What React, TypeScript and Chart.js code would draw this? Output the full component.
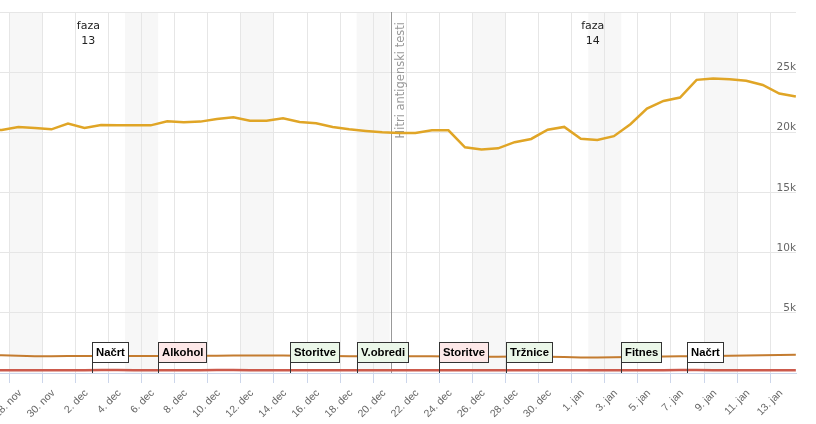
import { useEffect, useRef } from "react";
import { Chart, registerables } from "chart.js";

Chart.register(...registerables);

// ---- data -------------------------------------------------------------
// day index 0 = 28. nov (Saturday); first value belongs to day -2
const FIRST_DAY = -2;
const POINT_OFFSET = 0.55;

const tickDays = [0, 2, 4, 6, 8, 10, 12, 14, 16, 18, 20, 22, 24, 26, 28, 30, 32, 34, 36, 38, 40, 42, 44, 46];
const tickLabels = [
  "28. nov", "30. nov", "2. dec", "4. dec", "6. dec", "8. dec", "10. dec", "12. dec",
  "14. dec", "16. dec", "18. dec", "20. dec", "22. dec", "24. dec", "26. dec", "28. dec",
  "30. dec", "1. jan", "3. jan", "5. jan", "7. jan", "9. jan", "11. jan", "13. jan",
];

const yTickValues = [0, 5000, 10000, 15000, 20000, 25000, 30000];
const yLabelValues = [5000, 10000, 15000, 20000, 25000];
const yLabels = ["5k", "10k", "15k", "20k", "25k"];

const goldSeries = [
  20300, 20190, 20440, 20360, 20250, 20725, 20360, 20610, 20580, 20580,
  20580, 20920, 20830, 20890, 21110, 21250, 20970, 20970, 21170, 20860,
  20750, 20440, 20250, 20110, 20000, 19940, 19940, 20170, 20170, 18760,
  18580, 18670, 19180, 19450, 20220, 20450, 19470, 19370, 19680, 20670,
  21970, 22610, 22890, 24360, 24470, 24420, 24280, 23940, 23220, 22970,
];

const brownSeries = [
  1480, 1470, 1430, 1400, 1400, 1410, 1420, 1420, 1420, 1420,
  1410, 1410, 1420, 1430, 1440, 1450, 1460, 1460, 1450, 1440,
  1430, 1420, 1400, 1390, 1380, 1390, 1400, 1390, 1370, 1360,
  1350, 1350, 1370, 1380, 1360, 1320, 1290, 1280, 1300, 1330,
  1360, 1380, 1390, 1400, 1420, 1430, 1450, 1470, 1490, 1520,
];

const redSeries = [
  230, 230, 235, 235, 230, 230, 235, 240, 240, 235,
  230, 230, 235, 235, 240, 240, 235, 230, 230, 230,
  225, 225, 230, 230, 235, 235, 230, 225, 225, 225,
  230, 230, 235, 235, 230, 230, 225, 225, 230, 230,
  235, 235, 240, 240, 235, 235, 230, 230, 235, 235,
];

const weekendStarts = [0, 7, 14, 21, 28, 35, 42];

const phaseDays = [4.78, 35.27];
const phaseNumbers = ["13", "14"];

const markerDay = 23.06;
const markerLabel = "Hitri antigenski testi";

const flagDays = [5, 9, 17, 21, 26, 30, 37, 41];
const flagTitles = ["Načrt", "Alkohol", "Storitve", "V.obredi", "Storitve", "Tržnice", "Fitnes", "Načrt"];
const flagKinds = ["plain", "red", "green", "green", "red", "green", "green", "plain"];

// ---- styles -------------------------------------------------------------
const FLAG_FILL: Record<string, string> = { plain: "#ffffff", red: "#fde8e8", green: "#ebf7e9" };

const toPoints = (vals: number[]) =>
  vals.map((v, k) => ({ x: FIRST_DAY + k + POINT_OFFSET, y: v }));

const overlayPlugin = {
  id: "overlay",
  beforeDraw(chart: any) {
    const { ctx, chartArea: a, scales } = chart;
    const x = scales.x;
    ctx.save();
    ctx.fillStyle = "#f7f7f7";
    for (const d of weekendStarts) {
      const x0 = Math.max(x.getPixelForValue(d), a.left);
      const x1 = Math.min(x.getPixelForValue(d + 2), a.right);
      if (x1 > x0) ctx.fillRect(x0, a.top, x1 - x0, a.bottom - a.top);
    }
    ctx.restore();
  },
  beforeDatasetsDraw(chart: any) {
    const { ctx, chartArea: a, scales } = chart;
    const x = scales.x;
    ctx.save();
    // plot line
    const px = Math.round(x.getPixelForValue(markerDay)) + 0.5;
    ctx.strokeStyle = "#999999";
    ctx.lineWidth = 1;
    ctx.beginPath();
    ctx.moveTo(px, a.top);
    ctx.lineTo(px, a.bottom);
    ctx.stroke();
    ctx.translate(px + 12, a.top + 10);
    ctx.rotate(-Math.PI / 2);
    ctx.font = '11.5px "DejaVu Sans"';
    ctx.fillStyle = "#999999";
    ctx.textAlign = "right";
    ctx.textBaseline = "alphabetic";
    ctx.fillText(markerLabel, 0, 0);
    ctx.restore();

    // phase labels
    ctx.save();
    ctx.font = '11px "DejaVu Sans"';
    ctx.fillStyle = "#222222";
    ctx.textAlign = "center";
    ctx.textBaseline = "alphabetic";
    phaseDays.forEach((d, i) => {
      const cx = x.getPixelForValue(d);
      ctx.fillText("faza", cx, a.top + 17);
      ctx.fillText(phaseNumbers[i], cx, a.top + 32);
    });
    ctx.restore();
  },
  afterDatasetsDraw(chart: any) {
    const { ctx, chartArea: a, scales } = chart;
    const x = scales.x;
    const y = scales.y;
    ctx.save();
    // flags
    const base = Math.round(y.getPixelForValue(0));
    ctx.font = 'bold 11.3px "Liberation Sans"';
    ctx.textAlign = "left";
    ctx.textBaseline = "alphabetic";
    ctx.lineWidth = 1;
    flagDays.forEach((d, i) => {
      const fx = Math.round(x.getPixelForValue(d)) + 0.5;
      const t = flagTitles[i];
      const w = Math.round(ctx.measureText(t).width + 7);
      const top = base - 31 + 0.5;
      const h = 20;
      ctx.fillStyle = FLAG_FILL[flagKinds[i]];
      ctx.fillRect(fx, top, w, h);
      ctx.strokeStyle = "#333333";
      ctx.strokeRect(fx, top, w, h);
      ctx.beginPath();
      ctx.moveTo(fx, top + h);
      ctx.lineTo(fx, base);
      ctx.stroke();
      ctx.fillStyle = "#000000";
      ctx.fillText(t, fx + 3.5, top + 13.5);
    });
    // y labels
    ctx.font = '10.5px "DejaVu Sans"';
    ctx.fillStyle = "#666666";
    ctx.textAlign = "right";
    yLabelValues.forEach((v, i) => {
      const yy = y.getPixelForValue(v);
      ctx.fillText(yLabels[i], a.right, yy - 2);
    });
    ctx.restore();
  },
};

export default function App() {
  const ref = useRef<HTMLCanvasElement | null>(null);

  useEffect(() => {
    if (!ref.current) return;
    const chart = new Chart(ref.current, {
      type: "line",
      data: {
        datasets: [
          { data: toPoints(redSeries), borderColor: "#cc5a4c", borderWidth: 2.5, pointRadius: 0, tension: 0, clip: 0 },
          { data: toPoints(brownSeries), borderColor: "#c47c30", borderWidth: 2, pointRadius: 0, tension: 0, clip: 0 },
          { data: toPoints(goldSeries), borderColor: "#e0a526", borderWidth: 2.5, pointRadius: 0, tension: 0, clip: 0 },
        ],
      },
      options: {
        animation: false,
        responsive: false,
        devicePixelRatio: 1,
        layout: { padding: { left: 0, right: 20, top: 12, bottom: 0 } },
        plugins: { legend: { display: false }, tooltip: { enabled: false }, title: { display: false } },
        scales: {
          x: {
            type: "linear",
            min: -0.56,
            max: 47.56,
            afterBuildTicks: (s: any) => {
              s.ticks = tickDays.map((v) => ({ value: v }));
            },
            afterFit: (s: any) => {
              s.height = 51;
              s.paddingLeft = 0;
              s.paddingRight = 0;
            },
            ticks: {
              autoSkip: false,
              maxRotation: 45,
              minRotation: 45,
              color: "#666666",
              font: { family: "Liberation Sans", size: 10.5 },
              labelOffset: 11,
              padding: 4,
              callback: (v: any) => tickLabels[tickDays.indexOf(Number(v))] ?? "",
            },
            grid: { color: "#e6e6e6", tickColor: "#ccd6eb", tickLength: 10, lineWidth: 1 },
            border: { color: "#ccd6eb", width: 1 },
          },
          y: {
            position: "right",
            min: 0,
            max: 30000,
            afterBuildTicks: (s: any) => {
              s.ticks = yTickValues.map((v) => ({ value: v }));
            },
            afterFit: (s: any) => {
              s.width = 0;
            },
            ticks: { display: false },
            grid: { color: "#e6e6e6", drawTicks: false },
            border: { display: false },
          },
        },
      },
      plugins: [overlayPlugin],
    } as any);
    return () => chart.destroy();
  }, []);

  return (
    <div style={{ position: "fixed", left: 0, top: 0, width: 816, height: 424, background: "#fff" }}>
      <canvas ref={ref} width={816} height={424} style={{ display: "block", width: 816, height: 424 }} />
    </div>
  );
}
